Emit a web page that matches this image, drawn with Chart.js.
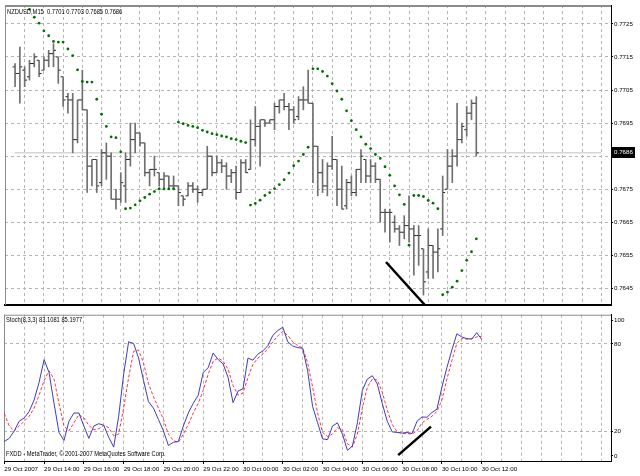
<!DOCTYPE html>
<html lang="en">
<head>
<meta charset="UTF-8">
<title>NZDUSD M15 with Parabolic SAR and Stochastic</title>
<script src="https://cdn.jsdelivr.net/npm/chart.js"></script>
<style>
  body { margin: 0; background: #fff; }
  #wrap { position: relative; width: 640px; height: 476px; overflow: hidden; }
  canvas { position: absolute; left: 0; }
  #priceChart { top: 0; }
  #stochChart { top: 310px; }
  .lbl {
    position: absolute; font-family: 'Liberation Sans', sans-serif;
    font-size: 8px; line-height: 10px; color: #000; white-space: nowrap;
    transform: scaleX(0.72); transform-origin: 0 0;
  }
</style>
</head>
<body>
<div id="wrap">
  <canvas id="priceChart" width="640" height="310"></canvas>
  <canvas id="stochChart" width="640" height="166"></canvas>
  <div class="lbl" style="left:7px; top:7px;">NZDUSD,M15&nbsp; 0.7701 0.7703 0.7685 0.7686</div>
  <div class="lbl" style="left:6px; top:315px;">Stoch(8,3,3) 83.1081 85.1977</div>
  <div class="lbl" style="left:6px; top:449px;">FXDD - MetaTrader, © 2001-2007 MetaQuotes Software Corp.</div>
</div>

<script>
// one label every 8 bars (2 hours of M15)
const timeLabels = ['29 Oct 2007', '29 Oct 14:00', '29 Oct 16:00', '29 Oct 18:00', '29 Oct 20:00',
  '29 Oct 22:00', '30 Oct 00:00', '30 Oct 02:00', '30 Oct 04:00', '30 Oct 06:00', '30 Oct 08:00',
  '30 Oct 10:00', '30 Oct 12:00'];
const priceTicks = [0.7645, 0.7655, 0.7665, 0.7675, 0.7685, 0.7695, 0.7705, 0.7715, 0.7725];
const stochLevels = [0, 20, 80, 100];

const opens = [
  0.7712, 0.7710, 0.7711, 0.7709, 0.7713, 0.7714, 0.7711, 0.7714, 0.7716, 0.7715,
  0.7709, 0.7703, 0.7702, 0.7690, 0.7702, 0.7699, 0.7682, 0.7684, 0.7677, 0.7686,
  0.7685, 0.7672, 0.7672, 0.7676, 0.7684, 0.7690, 0.7692, 0.7689, 0.7680, 0.7681,
  0.7680, 0.7678, 0.7679, 0.7676, 0.7676, 0.7673, 0.7673, 0.7676, 0.7675, 0.7674,
  0.7675, 0.7685, 0.7680, 0.7683, 0.7682, 0.7679, 0.7680, 0.7674, 0.7683, 0.7681,
  0.7690, 0.7694, 0.7696, 0.7695, 0.7696, 0.7700, 0.7702, 0.7700, 0.7699, 0.7697,
  0.7702, 0.7702, 0.7701, 0.7688, 0.7680, 0.7676, 0.7682, 0.7684, 0.7675, 0.7670,
  0.7677, 0.7674, 0.7681, 0.7684, 0.7679, 0.7682, 0.7678, 0.7668, 0.7668, 0.7665,
  0.7663, 0.7662, 0.7664, 0.7663, 0.7661, 0.7657, 0.7650, 0.7658, 0.7656, 0.7663,
  0.7675, 0.7682, 0.7685, 0.7690, 0.7693, 0.7698, 0.7701];
const highs = [
  0.7713, 0.7718, 0.7712, 0.7714, 0.7716, 0.7714, 0.7715, 0.7717, 0.7719, 0.7715,
  0.7709, 0.7704, 0.7704, 0.7702, 0.7711, 0.7699, 0.7684, 0.7684, 0.7687, 0.7689,
  0.7686, 0.7675, 0.7680, 0.7686, 0.7695, 0.7695, 0.7692, 0.7689, 0.7681, 0.7685,
  0.7680, 0.7680, 0.7679, 0.7679, 0.7676, 0.7673, 0.7677, 0.7677, 0.7676, 0.7675,
  0.7688, 0.7685, 0.7685, 0.7684, 0.7683, 0.7681, 0.7682, 0.7684, 0.7684, 0.7696,
  0.7700, 0.7696, 0.7696, 0.7696, 0.7701, 0.7702, 0.7704, 0.7701, 0.7700, 0.7703,
  0.7706, 0.7711, 0.7701, 0.7688, 0.7684, 0.7683, 0.7691, 0.7684, 0.7682, 0.7678,
  0.7679, 0.7681, 0.7687, 0.7684, 0.7684, 0.7683, 0.7678, 0.7669, 0.7669, 0.7667,
  0.7664, 0.7667, 0.7673, 0.7664, 0.7664, 0.7657, 0.7663, 0.7658, 0.7663, 0.7679,
  0.7687, 0.7687, 0.7701, 0.7695, 0.7700, 0.7702, 0.7703];
const lows = [
  0.7706, 0.7701, 0.7706, 0.7708, 0.7712, 0.7709, 0.7711, 0.7712, 0.7712, 0.7707,
  0.7700, 0.7698, 0.7686, 0.7689, 0.7699, 0.7674, 0.7676, 0.7674, 0.7676, 0.7678,
  0.7672, 0.7669, 0.7671, 0.7671, 0.7682, 0.7686, 0.7688, 0.7679, 0.7676, 0.7679,
  0.7676, 0.7675, 0.7675, 0.7675, 0.7670, 0.7670, 0.7673, 0.7674, 0.7671, 0.7673,
  0.7675, 0.7679, 0.7680, 0.7680, 0.7675, 0.7677, 0.7672, 0.7674, 0.7680, 0.7681,
  0.7688, 0.7682, 0.7694, 0.7695, 0.7693, 0.7698, 0.7699, 0.7693, 0.7695, 0.7696,
  0.7699, 0.7701, 0.7677, 0.7673, 0.7674, 0.7673, 0.7681, 0.7670, 0.7669, 0.7669,
  0.7673, 0.7673, 0.7677, 0.7677, 0.7677, 0.7677, 0.7665, 0.7662, 0.7659, 0.7662,
  0.7658, 0.7660, 0.7659, 0.7649, 0.7652, 0.7643, 0.7648, 0.7648, 0.7650, 0.7661,
  0.7675, 0.7677, 0.7682, 0.7689, 0.7691, 0.7696, 0.7685];
const closes = [
  0.7710, 0.7712, 0.7708, 0.7713, 0.7715, 0.7710, 0.7714, 0.7716, 0.7717, 0.7711,
  0.7702, 0.7702, 0.7690, 0.7702, 0.7699, 0.7682, 0.7684, 0.7676, 0.7686, 0.7685,
  0.7672, 0.7672, 0.7677, 0.7684, 0.7690, 0.7692, 0.7689, 0.7680, 0.7681, 0.7681,
  0.7678, 0.7679, 0.7676, 0.7676, 0.7674, 0.7672, 0.7676, 0.7675, 0.7674, 0.7675,
  0.7685, 0.7680, 0.7683, 0.7682, 0.7679, 0.7680, 0.7674, 0.7683, 0.7680, 0.7690,
  0.7694, 0.7696, 0.7695, 0.7696, 0.7700, 0.7702, 0.7700, 0.7699, 0.7696, 0.7702,
  0.7702, 0.7701, 0.7688, 0.7680, 0.7676, 0.7682, 0.7684, 0.7675, 0.7669, 0.7677,
  0.7674, 0.7681, 0.7685, 0.7679, 0.7682, 0.7678, 0.7668, 0.7668, 0.7668, 0.7663,
  0.7662, 0.7664, 0.7663, 0.7661, 0.7661, 0.7647, 0.7658, 0.7656, 0.7657, 0.7674,
  0.7682, 0.7685, 0.7690, 0.7694, 0.7698, 0.7701, 0.7686];

// parabolic SAR, first three dots are above the visible range
const sar = [
  null, null, null,
  0.77294, 0.77270, 0.77252, 0.77229, 0.77214, 0.77197, 0.77195, 0.77195, 0.77174, 0.77154,
  0.77111, 0.77076, 0.77074, 0.77074, 0.77022, 0.76977, 0.76940, 0.76908, 0.76906, 0.76863,
  0.76691, 0.76693, 0.76703, 0.76715, 0.76725, 0.76735, 0.76743, 0.76751, 0.76751, 0.76751, 0.76751,
  0.76953, 0.76948, 0.76943, 0.76940, 0.76936, 0.76928, 0.76923, 0.76918, 0.76915, 0.76911,
  0.76908, 0.76903, 0.76900, 0.76895, 0.76891,
  0.76702, 0.76707, 0.76717, 0.76731, 0.76740, 0.76752, 0.76764, 0.76779, 0.76799, 0.76821,
  0.76835, 0.76855, 0.76877,
  0.77114, 0.77114, 0.77106, 0.77092, 0.77069, 0.77047, 0.77022, 0.76987, 0.76957, 0.76930,
  0.76908, 0.76886, 0.76873, 0.76855, 0.76843, 0.76818, 0.76792, 0.76760, 0.76733, 0.76704,
  0.76581,
  0.76731, 0.76731, 0.76728, 0.76716, 0.76708, 0.76691,
  0.76431, 0.76439, 0.76454, 0.76472, 0.76504, 0.76535, 0.76561, 0.76600];

const stochMain = [
  13.3, 15.5, 20.6, 27.2, 29.4, 33.9, 41.7, 53.8, 69.3, 60.5,
  39.4, 19.5, 14.0, 27.2, 32.8, 32.8, 23.9, 15.5, 23.9, 25.5,
  24.4, 16.2, 9.5, 30.6, 59.3, 81.5, 80.4, 70.4, 55.0, 40.5,
  36.1, 28.4, 20.6, 10.6, 12.8, 13.3, 23.9, 32.8, 39.4, 45.0,
  60.5, 63.8, 73.8, 69.3, 66.4, 57.1, 39.9, 47.8, 49.4, 70.4,
  68.9, 73.1, 75.3, 78.9, 85.9, 89.2, 91.5, 81.5, 78.6, 77.5,
  77.1, 61.6, 37.2, 26.1, 15.1, 14.6, 23.9, 26.1, 18.4, 7.3,
  10.2, 26.1, 48.3, 56.0, 58.3, 52.7, 39.4, 27.2, 19.9, 19.5,
  19.1, 19.5, 18.8, 27.2, 30.1, 29.9, 33.2, 35.4, 50.5, 63.8,
  75.9, 87.0, 84.8, 83.7, 83.3, 87.7, 83.1];
const stochSignal = [
  32.4, 23.9, 20.6, 23.9, 27.2, 30.6, 36.1, 45.0, 55.0, 61.6,
  56.0, 39.4, 23.9, 20.6, 26.1, 31.7, 29.4, 24.4, 21.3, 22.1,
  24.4, 22.8, 17.3, 18.4, 36.1, 57.1, 74.9, 75.9, 67.1, 52.7,
  43.9, 36.1, 28.4, 18.4, 14.0, 12.8, 18.4, 25.0, 32.8, 39.4,
  48.3, 59.3, 68.2, 70.4, 68.2, 62.7, 51.6, 45.0, 46.5, 57.1,
  66.0, 70.4, 73.1, 76.6, 81.5, 85.5, 88.6, 85.9, 81.5, 78.9,
  77.1, 67.1, 50.5, 32.8, 19.5, 16.8, 18.4, 22.8, 21.3, 11.8,
  9.5, 18.4, 36.1, 50.5, 56.0, 55.4, 47.2, 35.0, 25.0, 19.9,
  18.8, 18.8, 18.4, 20.6, 26.1, 28.4, 30.6, 33.9, 41.7, 56.0,
  68.6, 80.4, 83.7, 83.3, 83.7, 84.8, 85.2];

// hand drawn trend lines: [bar, value]
const priceTrend = [[77.2, 0.7653], [85.3, 0.7640]];
const stochTrend = [[79.2, 4.0], [85.8, 23.5]];

const X_MIN = -0.06, X_MAX = 122;
const FONT = "'Liberation Sans', sans-serif";
const GRID = '#b4b4b4';
const STEM = '#707070';
const TICK = '#222';
Chart.defaults.font.family = FONT;
Chart.defaults.font.size = 6.2;
Chart.defaults.color = '#000';

const idx = closes.map((_, i) => i);
const lastClose = closes[closes.length - 1];
const gridTicks = [];
for (let v = 0; v <= 120; v += 4) gridTicks.push(v);

// grey top / left edge of each pane
function framePlugin(topWidth) {
  return {
    id: 'frame',
    beforeDatasetsDraw(chart) {
      const ca = chart.chartArea, ctx = chart.ctx;
      ctx.save();
      ctx.strokeStyle = '#8c8c8c';
      ctx.lineWidth = topWidth;
      ctx.beginPath();
      ctx.moveTo(ca.left, ca.top + topWidth / 2);
      ctx.lineTo(ca.right, ca.top + topWidth / 2);
      ctx.stroke();
      ctx.lineWidth = 1;
      ctx.beginPath();
      ctx.moveTo(ca.left + 0.5, ca.top);
      ctx.lineTo(ca.left + 0.5, ca.bottom);
      ctx.stroke();
      ctx.restore();
    }
  };
}

const lastPriceTag = {
  id: 'lastPriceTag',
  afterDraw(chart) {
    const ctx = chart.ctx, ca = chart.chartArea;
    const y = Math.round(chart.scales.y.getPixelForValue(lastClose));
    ctx.save();
    ctx.fillStyle = '#000';
    ctx.fillRect(ca.right + 1, y - 6, 23, 11);
    ctx.fillStyle = '#fff';
    ctx.font = '6.2px ' + FONT;
    ctx.textBaseline = 'middle';
    ctx.fillText(lastClose.toFixed(4), ca.right + 3, y - 0.5);
    ctx.restore();
  }
};

const xGridTicks = s => { s.ticks = gridTicks.map(v => ({ value: v })); };

new Chart(document.getElementById('priceChart'), {
  type: 'scatter',
  data: {
    datasets: [
      { type: 'line', data: [{ x: X_MIN, y: lastClose }, { x: X_MAX, y: lastClose }],
        borderColor: '#c0c0c0', borderWidth: 1, pointRadius: 0, order: 10 },
      { type: 'bar', data: idx.map(i => ({ x: i, y: [lows[i], highs[i]] })),
        backgroundColor: STEM, borderWidth: 0, barThickness: 1, order: 6 },
      { type: 'scatter', data: idx.map(i => ({ x: i - 0.3, y: opens[i] })),
        pointStyle: 'line', pointRadius: 1, pointBorderWidth: 1, pointBorderColor: TICK, order: 5 },
      { type: 'scatter', data: idx.map(i => ({ x: i + 0.3, y: closes[i] })),
        pointStyle: 'line', pointRadius: 1, pointBorderWidth: 1, pointBorderColor: TICK, order: 5 },
      { type: 'scatter', data: idx.filter(i => sar[i] !== null).map(i => ({ x: i, y: sar[i] })),
        pointStyle: 'circle', pointRadius: 1.4, pointBorderWidth: 0, pointBackgroundColor: '#007000', order: 3 },
      { type: 'line', data: priceTrend.map(p => ({ x: p[0], y: p[1] })),
        borderColor: '#000', borderWidth: 2.5, pointRadius: 0, order: 1 }
    ]
  },
  options: {
    responsive: false, animation: false, devicePixelRatio: 1, events: [],
    layout: { padding: { left: 4, top: 5, right: 0, bottom: 2 } },
    plugins: { legend: { display: false }, tooltip: { enabled: false } },
    scales: {
      x: {
        type: 'linear', min: X_MIN, max: X_MAX,
        afterBuildTicks: xGridTicks,
        afterFit: s => { s.height = 0; },
        ticks: { display: false },
        grid: { color: GRID, drawTicks: false },
        border: { color: '#000', width: 2, dash: [3, 3] }
      },
      y: {
        type: 'linear', position: 'right', min: 0.7640, max: 0.77307,
        afterBuildTicks: s => { s.ticks = priceTicks.map(v => ({ value: v })); },
        afterFit: s => { s.width = 29; },
        ticks: { callback: v => v.toFixed(4), padding: 1 },
        grid: { color: GRID, tickLength: 2, tickColor: '#000', tickBorderDash: [] },
        border: { color: '#000', dash: [3, 3] }
      }
    }
  },
  plugins: [framePlugin(2), lastPriceTag]
});

new Chart(document.getElementById('stochChart'), {
  type: 'scatter',
  data: {
    datasets: [
      { type: 'line', data: idx.map(i => ({ x: i, y: stochMain[i] })),
        borderColor: '#3c3cc0', borderWidth: 1, pointRadius: 0, order: 2 },
      { type: 'line', data: idx.map(i => ({ x: i, y: stochSignal[i] })),
        borderColor: '#ff3434', borderWidth: 1, borderDash: [3, 2], pointRadius: 0, order: 3 },
      { type: 'line', data: stochTrend.map(p => ({ x: p[0], y: p[1] })),
        borderColor: '#000', borderWidth: 2.5, pointRadius: 0, order: 1 }
    ]
  },
  options: {
    responsive: false, animation: false, devicePixelRatio: 1, events: [],
    layout: { padding: { left: 4, top: 1, right: 0, bottom: 0 } },
    plugins: { legend: { display: false }, tooltip: { enabled: false } },
    scales: {
      x: {
        type: 'linear', min: X_MIN, max: X_MAX,
        afterBuildTicks: xGridTicks,
        afterFit: s => { s.height = 15; },
        ticks: {
          autoSkip: false, maxRotation: 0, align: 'start', padding: 2,
          callback: v => (v % 8 === 0 && timeLabels[v / 8]) ? timeLabels[v / 8] : ''
        },
        grid: {
          color: GRID, tickLength: 3, tickBorderDash: [],
          tickColor: c => (c.tick && c.tick.value % 8 === 0 && timeLabels[c.tick.value / 8]) ? '#000' : 'rgba(0,0,0,0)'
        },
        border: { color: '#000', width: 1, dash: [3, 3] }
      },
      y: {
        type: 'linear', position: 'right', min: 0, max: 100,
        // the 0 and 100 labels sit just inside the pane edges
        afterBuildTicks: s => { s.ticks = stochLevels.map(v => ({ value: v === 0 ? 3.5 : v === 100 ? 96.3 : v })); },
        afterFit: s => { s.width = 29; },
        ticks: { callback: (v, i) => String(stochLevels[i]), padding: 1 },
        grid: {
          tickLength: 2, tickColor: '#000', tickBorderDash: [],
          color: c => (c.tick && (c.tick.value === 20 || c.tick.value === 80)) ? GRID : 'rgba(0,0,0,0)'
        },
        border: { color: '#000', dash: [3, 3] }
      }
    }
  },
  plugins: [framePlugin(1)]
});
</script>
</body>
</html>
